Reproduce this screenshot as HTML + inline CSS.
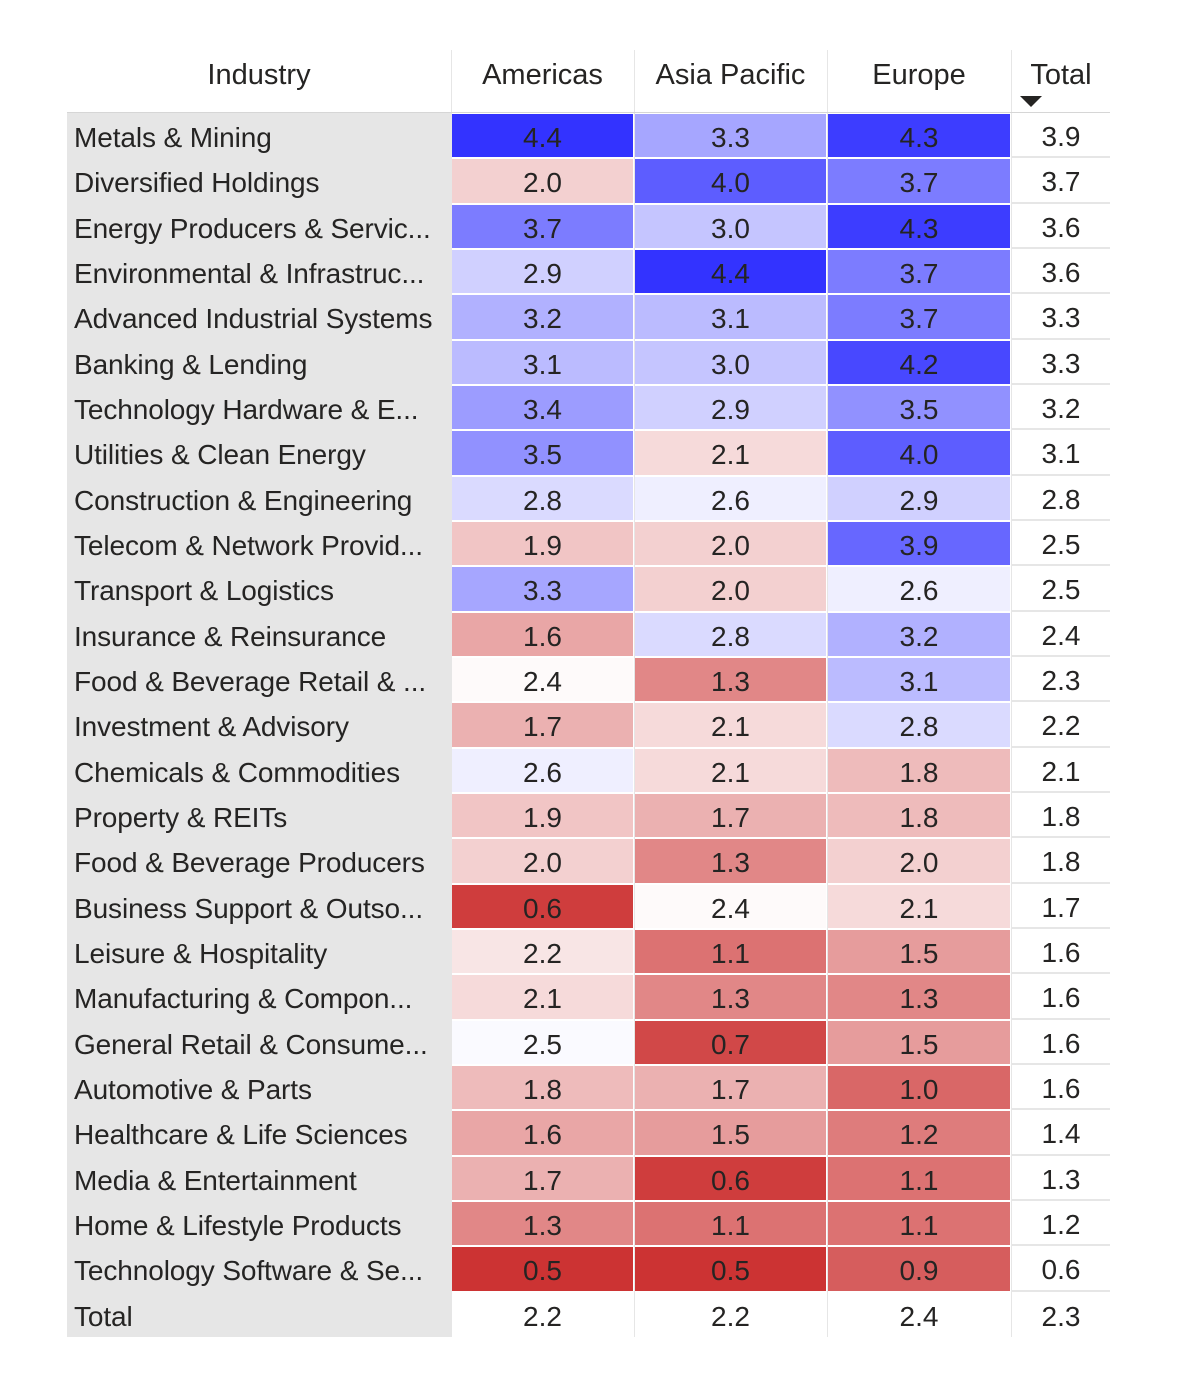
<!DOCTYPE html>
<html><head><meta charset="utf-8">
<style>
body{margin:0;background:#fff;width:1200px;height:1385px;position:relative;overflow:hidden;font-family:"Segoe UI","Liberation Sans",sans-serif;color:#252423}
.c{position:absolute;box-sizing:border-box;display:flex;align-items:center;justify-content:center;font-size:28px;white-space:nowrap;overflow:hidden;padding-top:5px}
.l{justify-content:flex-start;padding-left:7px;letter-spacing:-0.1px}
.h{font-size:29px;padding-top:0}
.ln{padding:0}
</style></head><body>
<div id="t"></div>
<script>
const industries=["Metals & Mining","Diversified Holdings","Energy Producers & Servic...","Environmental & Infrastruc...","Advanced Industrial Systems","Banking & Lending","Technology Hardware & E...","Utilities & Clean Energy","Construction & Engineering","Telecom & Network Provid...","Transport & Logistics","Insurance & Reinsurance","Food & Beverage Retail & ...","Investment & Advisory","Chemicals & Commodities","Property & REITs","Food & Beverage Producers","Business Support & Outso...","Leisure & Hospitality","Manufacturing & Compon...","General Retail & Consume...","Automotive & Parts","Healthcare & Life Sciences","Media & Entertainment","Home & Lifestyle Products","Technology Software & Se..."];
const regions=["Americas","Asia Pacific","Europe"];
const americas=[4.4,2.0,3.7,2.9,3.2,3.1,3.4,3.5,2.8,1.9,3.3,1.6,2.4,1.7,2.6,1.9,2.0,0.6,2.2,2.1,2.5,1.8,1.6,1.7,1.3,0.5];
const asiaPacific=[3.3,4.0,3.0,4.4,3.1,3.0,2.9,2.1,2.6,2.0,2.0,2.8,1.3,2.1,2.1,1.7,1.3,2.4,1.1,1.3,0.7,1.7,1.5,0.6,1.1,0.5];
const europe=[4.3,3.7,4.3,3.7,3.7,4.2,3.5,4.0,2.9,3.9,2.6,3.2,3.1,2.8,1.8,1.8,2.0,2.1,1.5,1.3,1.5,1.0,1.2,1.1,1.1,0.9];
const totals=[3.9,3.7,3.6,3.6,3.3,3.3,3.2,3.1,2.8,2.5,2.5,2.4,2.3,2.2,2.1,1.8,1.8,1.7,1.6,1.6,1.6,1.6,1.4,1.3,1.2,0.6];
const colTotals=[2.2,2.2,2.4,2.3];
const series=[americas,asiaPacific,europe];

const t=document.getElementById('t');
const top0=113,rh=(1337-113)/27;
const cols=[[452,633],[635,826],[828,1010]];
function color(v){
  const mid=2.45,mx=4.4,mn=0.5;
  if(v>=mid){const f=Math.min(1,(v-mid)/(mx-mid));
    return `rgb(${Math.round(255-f*204)},${Math.round(255-f*204)},255)`;}
  const f=Math.min(1,(mid-v)/(mid-mn));
  return `rgb(${Math.round(255-f*51)},${Math.round(255-f*204)},${Math.round(255-f*204)})`;
}
function box(x,y,w,h,txt,bg,cls){
  const d=document.createElement('div');
  d.className='c '+(cls||'');
  d.style.left=x+'px';d.style.top=y+'px';d.style.width=w+'px';d.style.height=h+'px';
  if(bg)d.style.background=bg;
  d.textContent=txt;
  t.appendChild(d);return d;
}
let bg=box(67,top0,384,1337-top0,'','#e6e6e6','ln');


let hd=box(67,50,384,50,'Industry',null,'h');


regions.forEach((r,i)=>{
  let e=box(cols[i][0],50,cols[i][1]-cols[i][0],50,r,null,'h');
  
  
});
let ht=box(1012,50,98,50,'Total',null,'h');


const arr=document.createElementNS('http://www.w3.org/2000/svg','svg');
arr.setAttribute('width','22');arr.setAttribute('height','12');
arr.style.position='absolute';arr.style.left='1020px';arr.style.top='96px';
arr.innerHTML='<polygon points="0,0 22,0 11,11" fill="#252423"/>';


t.appendChild(arr);
[451,634,827,1011].forEach(x=>{
  const s=box(x,50,1,1287,'','#e6e6e6','ln');
  
  
});
const hl=box(67,112,1043,1,'','#d6d6d6','ln');


industries.forEach((name,r)=>{
  const y=top0+r*rh;
  const lab=box(67,y,384,rh,name,null,'l');
  
  
  series.forEach((s,i)=>{
    const v=s[r];
    const c=box(cols[i][0],y+1,cols[i][1]-cols[i][0],rh-2,v.toFixed(1),color(v));
    
    
  });
  const tc=box(1012,y,98,rh,totals[r].toFixed(1),null);
  tc.style.borderBottom='2px solid #e6e6e6';
  
  
});
const yT=top0+26*rh;
const tl=box(67,yT,384,rh,'Total',null,'l');


colTotals.forEach((v,i)=>{
  const x0=i<3?cols[i][0]:1012,x1=i<3?cols[i][1]:1110;
  const e=box(x0,yT,x1-x0,rh,v.toFixed(1),null);
  
  
});
</script>
</body></html>
